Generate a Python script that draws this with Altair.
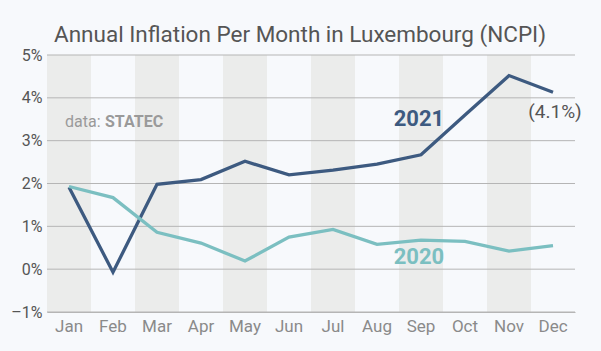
import altair as alt
import pandas as pd

months = ["Jan", "Feb", "Mar", "Apr", "May", "Jun", "Jul", "Aug", "Sep", "Oct", "Nov", "Dec"]
infl_2021 = [1.91, -0.07, 1.98, 2.09, 2.52, 2.20, 2.31, 2.45, 2.67, 3.60, 4.52, 4.13]
infl_2020 = [1.93, 1.67, 0.86, 0.61, 0.19, 0.75, 0.93, 0.58, 0.68, 0.65, 0.42, 0.55]
y_ticks = [-1, 0, 1, 2, 3, 4, 5]

W, H = 528, 257
BG = "#f7f9fc"
DARK = "#3d5a80"
TEAL = "#7bbfc1"

lines_df = pd.DataFrame({
    "month": months * 2,
    "value": infl_2021 + infl_2020,
    "year": ["2021"] * 12 + ["2020"] * 12,
})
bands_df = pd.DataFrame({"month": months[::2]})

xscale = alt.Scale(type="band", domain=months, paddingInner=0, paddingOuter=0)
yscale = alt.Scale(domain=[-1, 5], nice=False, zero=False)

x_enc = alt.X("month:N", scale=xscale, sort=months,
              axis=alt.Axis(title=None, labelAngle=0, ticks=False, domain=True,
                            domainColor="#b5b5b5", labelColor="#8a8a8a",
                            labelFontSize=17, labelFont="Roboto", labelPadding=6))

bands = alt.Chart(bands_df).mark_rect(color="#ebeceb").encode(
    x=x_enc,
    y=alt.value(0),
    y2=alt.value(H),
)

grid = alt.Chart(pd.DataFrame({"v": y_ticks})).mark_rule(color="#b5b5b5", strokeWidth=1).encode(
    y=alt.Y("v:Q", scale=yscale,
            axis=alt.Axis(title=None, values=y_ticks,
                          labelExpr="replace(datum.value + '%', '-', '\u2013')",
                          ticks=False, domain=False, grid=False, labelColor="#555555",
                          labelFontSize=16, labelFont="Roboto", labelPadding=5)),
)

lines = alt.Chart(lines_df).mark_line(strokeWidth=3.3, strokeJoin="miter").encode(
    x=alt.X("month:N", scale=xscale, sort=months),
    y=alt.Y("value:Q", scale=yscale),
    color=alt.Color("year:N", scale=alt.Scale(domain=["2021", "2020"], range=[DARK, TEAL]), legend=None),
    order=alt.Order("year:N"),
)

def label(df, **kw):
    return alt.Chart(pd.DataFrame(df)).mark_text(font="Roboto", baseline="alphabetic", **kw).encode(
        x=alt.X("month:N", scale=xscale, sort=months),
        y=alt.Y("y:Q", scale=yscale),
        text="t:N",
    )

lab2021 = label({"month": ["Sep"], "y": [3.34], "t": ["2021"]}, fontSize=22, fontWeight="bold", color=DARK, align="center", dx=-2)
lab2020 = label({"month": ["Sep"], "y": [0.12], "t": ["2020"]}, fontSize=22, fontWeight="bold", color=TEAL, align="center", dx=-2)
lab41 = label({"month": ["Dec"], "y": [3.53], "t": ["(4.1%)"]}, fontSize=19, color="#555555", align="center", dx=2)
src1 = label({"month": ["Jan"], "y": [3.32], "t": ["data:"]}, fontSize=16, color="#9a9a9a", align="left", dx=-4)
src2 = label({"month": ["Jan"], "y": [3.32], "t": ["STATEC"]}, fontSize=16, fontWeight="bold", color="#9a9a9a", align="left", dx=36)

chart = alt.layer(bands, grid, lines, lab2021, lab2020, lab41, src1, src2).properties(
    width=W, height=H,
    background=BG,
    autosize=alt.AutoSizeParams(type="none"),
    padding={"left": 47, "top": 55, "right": 26, "bottom": 39},
    title=alt.TitleParams("Annual Inflation Per Month in Luxembourg (NCPI)", font="Roboto",
                          fontSize=22.5, fontWeight="normal", color="#555555", anchor="middle",
                          baseline="alphabetic", offset=13, dx=-11, dy=30),
).configure_view(stroke=None)

chart.save("out.html", embed_options={"renderer": "svg", "actions": False})
